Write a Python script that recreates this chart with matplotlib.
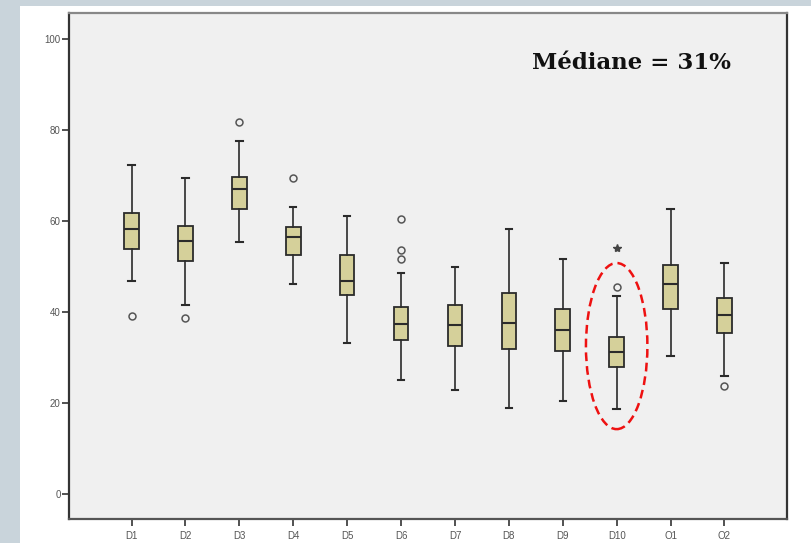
import matplotlib.pyplot as plt
from matplotlib.patches import Ellipse, Rectangle

labels = ["D1", "D2", "D3", "D4", "D5", "D6", "D7", "D8", "D9", "D10", "O1", "O2"]
whislo = [46.8, 41.5, 55.3, 46.1, 33.1, 25.1, 22.9, 18.8, 20.4, 18.7, 30.3, 25.9]
q1 = [53.8, 51.2, 62.7, 52.6, 43.8, 33.8, 32.5, 31.8, 31.4, 27.8, 40.6, 35.3]
med = [58.2, 55.6, 67.0, 56.4, 46.9, 37.4, 37.1, 37.6, 36.1, 31.3, 46.2, 39.3]
q3 = [61.8, 59.0, 69.7, 58.7, 52.5, 41.0, 41.5, 44.1, 40.6, 34.4, 50.3, 43.0]
whishi = [72.2, 69.5, 77.6, 63.1, 61.1, 48.6, 49.8, 58.2, 51.7, 43.6, 62.6, 50.7]
outliers = [[39.1], [38.6], [81.7], [69.5], [], [60.4, 53.6, 51.7], [], [], [], [45.4], [], [23.7]]
extremes = [[], [], [], [], [], [], [], [], [], [54.0], [], []]
median_text = "Médiane = 31%"

fig = plt.figure(figsize=(8.11, 5.43), dpi=100)
fig.patch.set_facecolor("#c9d4db")
# white panel behind the chart
fig.patches.append(Rectangle((20 / 811, 0), 1, 1 - 6 / 543, transform=fig.transFigure,
                             facecolor="white", edgecolor="none", zorder=-10))

ax = fig.add_axes([69 / 811, 1 - 519 / 543, (787 - 69) / 811, (519 - 13) / 543])
ax.set_facecolor("#f0f0f0")

stats = []
for i, lab in enumerate(labels):
    stats.append(dict(label=lab, whislo=whislo[i], q1=q1[i], med=med[i],
                      q3=q3[i], whishi=whishi[i], fliers=outliers[i]))

pos = list(range(1, len(labels) + 1))
ax.bxp(stats, positions=pos, widths=0.27, capwidths=0.12, patch_artist=True,
       boxprops=dict(facecolor="#d5d09a", edgecolor="#2b2b2b", linewidth=1.3),
       medianprops=dict(color="#2b2b2b", linewidth=1.5),
       whiskerprops=dict(color="#2b2b2b", linewidth=1.2),
       capprops=dict(color="#2b2b2b", linewidth=1.5),
       flierprops=dict(marker="o", markerfacecolor="none", markeredgecolor="#555555",
                       markersize=5, markeredgewidth=1.1))

for p, ext in zip(pos, extremes):
    if ext:
        ax.plot([p] * len(ext), ext, linestyle="none", marker="*", color="#444444",
                markersize=6)

# highlight D10
ax.add_patch(Ellipse((10, 32.5), width=1.14, height=36.5, fill=False,
                     edgecolor="#ee1111", linestyle=(0, (3.5, 2)), linewidth=1.8))

ax.text(0.645, 0.901, median_text, transform=ax.transAxes, ha="left", va="center",
        fontsize=16.5, fontweight="bold", family="DejaVu Serif", color="#111111")

ax.set_xlim(-0.16, 13.16)
ax.set_ylim(-5.5, 105.7)
ax.set_yticks([0, 20, 40, 60, 80, 100])
ax.set_xticks(pos)
ax.set_xticklabels(labels)
ax.tick_params(axis="both", direction="out", length=5, width=1.2, color="#333333",
               labelsize=7, labelcolor="#555555")
ax.tick_params(axis="y", pad=1)
for lab in ax.get_xticklabels() + ax.get_yticklabels():
    lab.set_family("Liberation Sans")

for side in ["left", "right"]:
    ax.spines[side].set_color("#333333")
    ax.spines[side].set_linewidth(1.6)
ax.spines["bottom"].set_color("#555555")
ax.spines["bottom"].set_linewidth(1.6)
ax.spines["top"].set_color("#888888")
ax.spines["top"].set_linewidth(1.6)

fig.savefig("out.png", dpi=100, facecolor=fig.get_facecolor())
